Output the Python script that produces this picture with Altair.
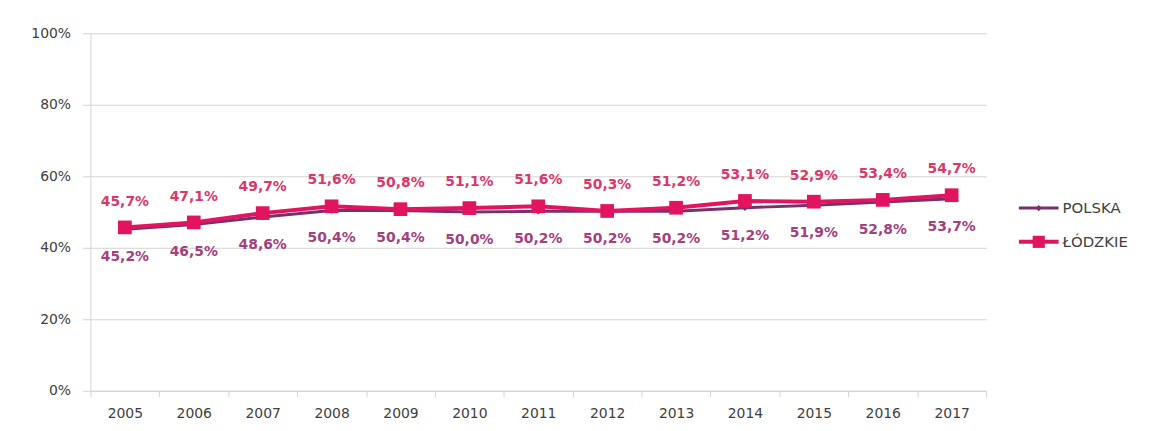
import altair as alt
import pandas as pd

years = ["2005", "2006", "2007", "2008", "2009", "2010", "2011",
         "2012", "2013", "2014", "2015", "2016", "2017"]
polska = [45.2, 46.5, 48.6, 50.4, 50.4, 50.0, 50.2, 50.2, 50.2, 51.2, 51.9, 52.8, 53.7]
lodzkie = [45.7, 47.1, 49.7, 51.6, 50.8, 51.1, 51.6, 50.3, 51.2, 53.1, 52.9, 53.4, 54.7]
series_names = ["POLSKA", "ŁÓDZKIE"]
y_ticks = [0, 0.2, 0.4, 0.6, 0.8, 1.0]

FONT = "DejaVu Sans"
C_POL = "#7A2E6E"
C_LOD = "#E2135F"
C_POL_TXT = "#A3407E"
C_LOD_TXT = "#D8386C"
GRID = "#D4D4D4"


def fmt(v):
    return f"{v:.1f}".replace(".", ",") + "%"


rows = []
for name, vals in zip(series_names, [polska, lodzkie]):
    for y, v in zip(years, vals):
        rows.append({"year": y, "series": name, "value": v / 100.0, "label": fmt(v)})
df = pd.DataFrame(rows)

x_enc = alt.X(
    "year:N",
    sort=years,
    scale=alt.Scale(type="band", paddingInner=0, paddingOuter=0),
    axis=alt.Axis(
        title=None, labelAngle=0, grid=False, domain=True, domainColor=GRID,
        ticks=True, tickBand="extent", tickColor=GRID, tickSize=6,
        labelPadding=10, labelFont=FONT, labelFontSize=14, labelColor="#404040",
    ),
)
y_enc = alt.Y(
    "value:Q",
    scale=alt.Scale(domain=[0, 1]),
    axis=alt.Axis(
        title=None, format=".0%", values=y_ticks, grid=True, gridColor=GRID,
        domain=True, domainColor=GRID, ticks=True, tickColor=GRID, tickSize=8,
        labelPadding=12, labelFont=FONT, labelFontSize=14, labelColor="#404040",
    ),
)

base = alt.Chart(df).encode(x=x_enc, y=y_enc)

line_pol = base.transform_filter(alt.datum.series == "POLSKA").mark_line(
    color=C_POL, strokeWidth=3)
line_lod = base.transform_filter(alt.datum.series == "ŁÓDZKIE").mark_line(
    color=C_LOD, strokeWidth=4)
pt_pol = base.transform_filter(alt.datum.series == "POLSKA").mark_point(
    shape="diamond", filled=True, size=40, color=C_POL, opacity=1)
pt_lod = base.transform_filter(alt.datum.series == "ŁÓDZKIE").mark_point(
    shape="square", filled=True, size=190, color=C_LOD, opacity=1)
txt_pol = base.transform_filter(alt.datum.series == "POLSKA").mark_text(
    font=FONT, fontSize=14, fontWeight="bold", color=C_POL_TXT, dy=28,
    baseline="middle").encode(text="label:N")
txt_lod = base.transform_filter(alt.datum.series == "ŁÓDZKIE").mark_text(
    font=FONT, fontSize=14, fontWeight="bold", color=C_LOD_TXT, dy=-26,
    baseline="middle").encode(text="label:N")

main = alt.layer(line_pol, line_lod, pt_pol, pt_lod, txt_pol, txt_lod).properties(
    width=902, height=360)

# legend
leg_df = pd.DataFrame({"series": series_names})
leg_y = alt.Y("series:N", sort=series_names,
              scale=alt.Scale(type="point", domain=series_names, range=[176, 210], padding=0),
              axis=None)
leg_base = alt.Chart(leg_df).encode(y=leg_y)
leg_color = alt.Color("series:N", scale=alt.Scale(domain=series_names, range=[C_POL, C_LOD]),
                      legend=None)
leg_rule = leg_base.mark_rule().encode(
    x=alt.value(0), x2=alt.value(40), color=leg_color,
    strokeWidth=alt.StrokeWidth("series:N", scale=alt.Scale(domain=series_names, range=[3, 4]),
                                legend=None))
leg_pt = leg_base.mark_point(filled=True, opacity=1).encode(
    x=alt.value(20), color=leg_color,
    shape=alt.Shape("series:N", scale=alt.Scale(domain=series_names, range=["diamond", "square"]),
                    legend=None),
    size=alt.Size("series:N", scale=alt.Scale(domain=series_names, range=[40, 150]), legend=None))
leg_txt = leg_base.mark_text(align="left", baseline="middle", font=FONT, fontSize=15,
                             color="#404040").encode(x=alt.value(44), text="series:N")
legend = alt.layer(leg_rule, leg_pt, leg_txt).properties(width=120, height=360)

chart = alt.hconcat(main, legend, spacing=30).properties(
    padding={"left": 22, "top": 17, "right": 5, "bottom": 5},
    background="white",
).configure_view(stroke=None)

chart.save("out.html", embed_options={"renderer": "svg", "actions": False})
